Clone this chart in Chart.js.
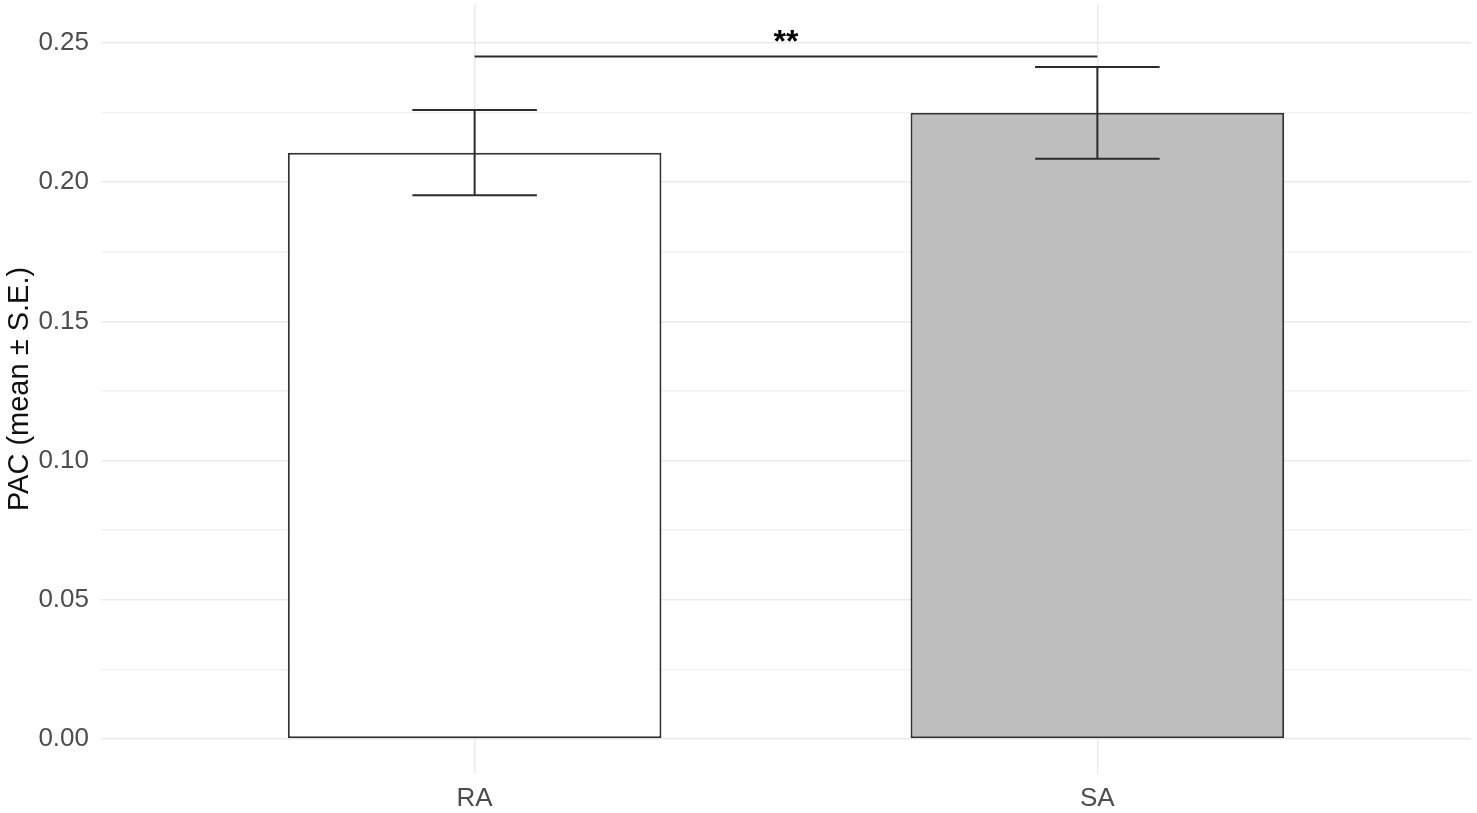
<!DOCTYPE html>
<html>
<head>
<meta charset="utf-8">
<script src="https://cdn.jsdelivr.net/npm/chart.js"></script>
<style>
  html, body { margin: 0; padding: 0; background: #ffffff; }
</style>
</head>
<body>
<canvas id="pacBar" width="1477" height="813"></canvas>
<script>
// groups and values
const groups = ['RA', 'SA'];
const means = [0.2106, 0.2249];
const stdErr = [0.0153, 0.0165];
const barFill = ['#ffffff', '#bebebe'];
const yTicks = [0, 0.05, 0.10, 0.15, 0.20, 0.25];
const yMinor = [0.025, 0.075, 0.125, 0.175, 0.225];
const sigY = 0.2451;
const sigLabel = '**';

const FONT = "'Liberation Sans', Arial, sans-serif";

// error bars + significance bracket on top of the bars
const errorBarPlugin = {
  id: 'errorBars',
  afterDatasetsDraw(chart) {
    const {ctx, scales: {x, y}} = chart;
    ctx.save();
    ctx.strokeStyle = '#2b2b2b';
    ctx.lineWidth = 2;
    groups.forEach((g, i) => {
      const cx = x.getPixelForValue(i + 1);
      const half = x.getPixelForValue(i + 1.1) - cx;
      const top = y.getPixelForValue(means[i] + stdErr[i]);
      const bot = y.getPixelForValue(means[i] - stdErr[i]);
      ctx.beginPath();
      ctx.moveTo(cx - half, top); ctx.lineTo(cx + half, top);
      ctx.moveTo(cx, top); ctx.lineTo(cx, bot);
      ctx.moveTo(cx - half, bot); ctx.lineTo(cx + half, bot);
      ctx.stroke();
    });
    const sy = y.getPixelForValue(sigY);
    ctx.beginPath();
    ctx.moveTo(x.getPixelForValue(1), sy);
    ctx.lineTo(x.getPixelForValue(2), sy);
    ctx.stroke();
    ctx.fillStyle = '#000000';
    ctx.font = 'bold 32px ' + FONT;
    ctx.textAlign = 'center';
    ctx.textBaseline = 'alphabetic';
    ctx.fillText(sigLabel, x.getPixelForValue(1.5), sy - 5);
    ctx.restore();
  }
};

const noPad = (scale) => {
  scale.paddingTop = 0; scale.paddingBottom = 0;
  scale.paddingLeft = 0; scale.paddingRight = 0;
};

const config = {
  type: 'bar',
  data: {
    datasets: [{
      data: groups.map((g, i) => ({x: i + 1, y: means[i]})),
      backgroundColor: barFill,
      borderColor: '#333333',
      borderWidth: 2,
      borderSkipped: false,
      barPercentage: 0.6,
      categoryPercentage: 1.0,
    }]
  },
  options: {
    responsive: false,
    animation: false,
    layout: { padding: { top: 4, right: 6, left: 0, bottom: 0 } },
    plugins: {
      legend: { display: false },
      tooltip: { enabled: false },
    },
    scales: {
      x: {
        type: 'linear',
        min: 0.4,
        max: 2.6,
        offset: false,
        afterBuildTicks: (scale) => { scale.ticks = groups.map((g, i) => ({value: i + 1})); },
        afterFit: (scale) => { scale.height = 39; noPad(scale); },
        ticks: {
          callback: (v) => groups[v - 1] || '',
          color: '#4d4d4d',
          font: { family: FONT, size: 26 },
          padding: 9,
        },
        grid: { color: '#ebebeb', lineWidth: 1.5, drawTicks: false, offset: false },
        border: { display: false },
      },
      y: {
        min: -0.0126,
        max: 0.264,
        afterBuildTicks: (scale) => {
          scale.ticks = yTicks.concat(yMinor).sort((a, b) => a - b).map(v => ({value: v}));
        },
        afterFit: (scale) => { scale.width = 101; noPad(scale); },
        ticks: {
          callback: (v) => yTicks.some(t => Math.abs(t - v) < 1e-9) ? v.toFixed(2) : '',
          color: '#4d4d4d',
          font: { family: FONT, size: 26 },
          padding: 12,
        },
        grid: {
          color: (c) => yTicks.some(t => Math.abs(t - c.tick.value) < 1e-9) ? '#ebebeb' : '#f3f3f3',
          lineWidth: 1.5,
          drawTicks: false,
        },
        border: { display: false },
        title: {
          display: true,
          text: 'PAC (mean ± S.E.)',
          color: '#111111',
          font: { family: FONT, size: 29 },
          padding: { top: 3, bottom: 0 },
        },
      }
    }
  },
  plugins: [errorBarPlugin]
};

const pacChart = new Chart(document.getElementById('pacBar'), config);
</script>
</body>
</html>
